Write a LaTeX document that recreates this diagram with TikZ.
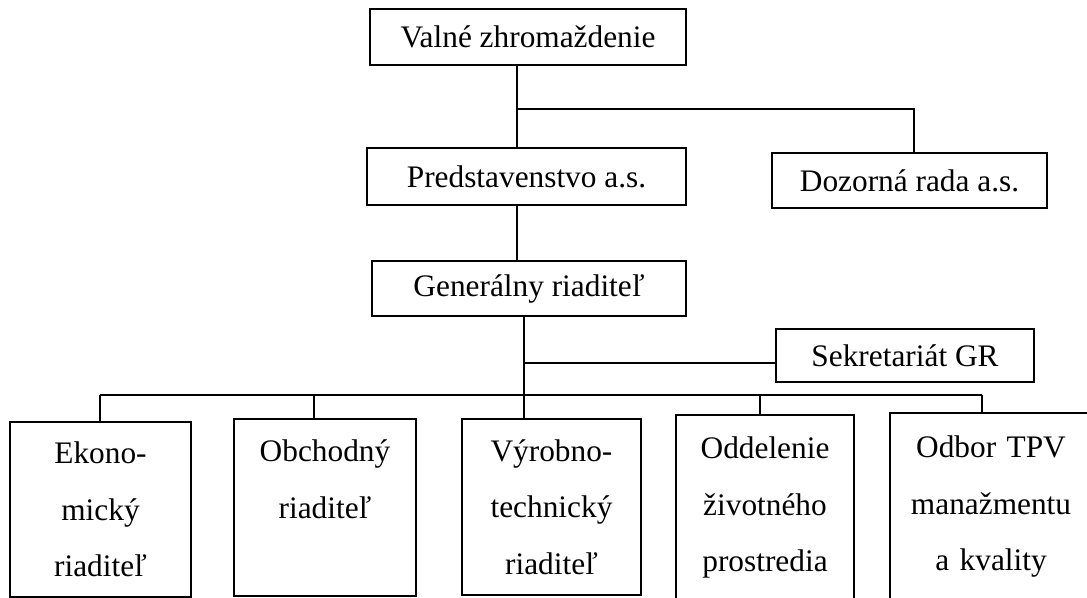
\documentclass[tikz,border=0pt]{standalone}
\usepackage{fontspec}
\setmainfont{Liberation Serif}
\usetikzlibrary{positioning}

\begin{document}
\begin{tikzpicture}[
			x=0.75pt, y=-0.75pt,
			% Define styles for boxes and lines
			every node/.style={draw, rectangle, line width=1.4pt, inner sep=0pt, font=\fontsize{23.5}{42.4}\selectfont},
			unit/.style 2 args={minimum width=#1, minimum height=#2},
			kid/.style={align=center, text width=126pt},
			link/.style={line width=1.4pt}
		]
		\useasboundingbox (0,0) rectangle (1087,597);

		% Top level
		\node[unit={237pt}{42pt}] (valne) at (528,37) {Valné zhromaždenie};
		\node[unit={239.25pt}{42.75pt}] (pred) at (526.5,176.5) {Predstavenstvo a.s.};
		\node[unit={206.25pt}{41.25pt}] (dozor) at (909.5,180.5) {Dozorná rada a.s.};
		% Second level
		\node[unit={235.5pt}{41.25pt}] (gen) at (529,288.5) {Generálny riaditeľ};
		\node[unit={193.5pt}{39.75pt}] (sekr) at (905,355.5) {Sekretariát GR};
		% Departments
		\node[kid, unit={135.75pt}{131.25pt}] (eko) at (100.5,509.5) {Ekono-\\mický\\riaditeľ};
		\node[kid, unit={136.5pt}{132.75pt}] (obch) at (325,507.5) {Obchodný\\riaditeľ\\\mbox{}};
		\node[kid, unit={134.25pt}{132pt}] (vyr) at (551.5,507) {Výrobno-\\technický\\riaditeľ};
		\node[kid, unit={133.5pt}{138.75pt}] (odd) at (765,507.5) {Oddelenie\\životného\\prostredia};
		\node[kid, unit={151.5pt}{140.25pt}] (odbor) at (991,506.5) {Odbor TPV\\manažmentu\\a kvality};

		% Junctions
		\coordinate (j1) at (517,109);
		\coordinate (j2) at (914,109);
		\coordinate (j3) at (524,363);
		\foreach \k/\x in {eko/100, obch/314, vyr/524, odd/760, odbor/982}
			\coordinate (top-\k) at (\x,395);

		% Connectors
		\draw[link] (valne.south -| j1) -- (pred.north -| j1);
		\draw[link] (j1) -- (j2) -- (dozor.north -| j2);
		\draw[link] (pred.south -| j1) -- (gen.north -| j1);
		\draw[link] (gen.south -| j3) -- (top-vyr);
		\draw[link] (j3) -- (sekr.west |- j3);
		\draw[link] (top-eko) -- (top-odbor);
		\foreach \k in {eko, obch, vyr, odd, odbor}
			\draw[link] (top-\k) -- (top-\k |- \k.north);
	\end{tikzpicture}
\end{document}
